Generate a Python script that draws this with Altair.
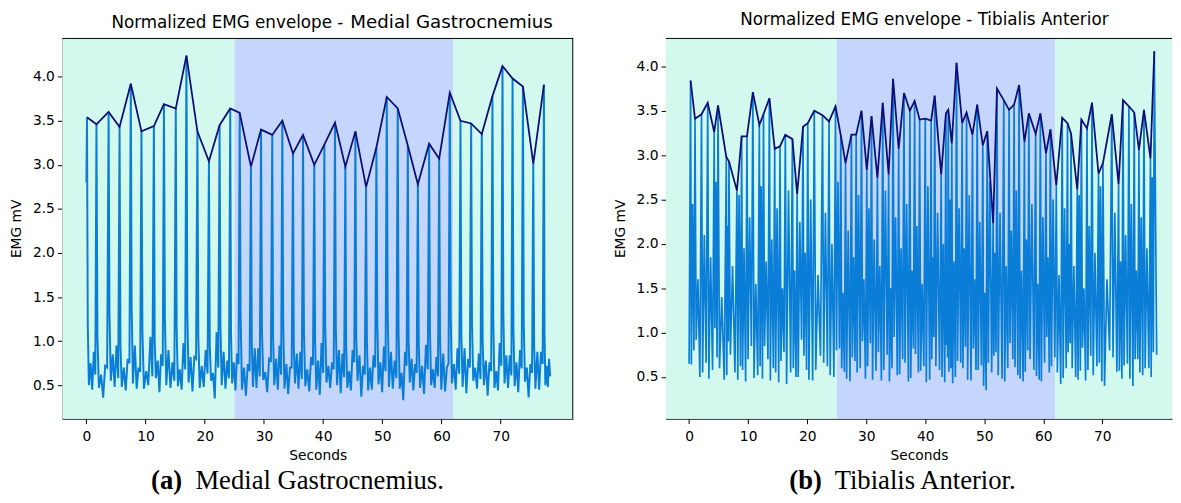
import altair as alt
import pandas as pd

# ---------------- data ----------------
# Medial Gastrocnemius: spike times (s) and spike heights (envelope vertices)
MG_T = [0.1, 1.7, 3.75, 5.6, 7.5, 9.3, 11.4, 13.1, 15.1, 16.9,
        18.75, 20.7, 22.5, 24.3, 25.9, 27.8, 29.5, 31.4, 33.1, 34.9,
        36.6, 38.5, 40.2, 42.0, 43.75, 45.45, 47.25, 49.0, 50.75, 52.6,
        54.3, 56.0, 57.9, 59.6, 61.4, 63.2, 65.0, 66.8, 68.6, 70.3,
        72.0, 73.75, 75.5, 77.3]
MG_PEAK = [3.54, 3.46, 3.60, 3.43, 3.92, 3.38, 3.44, 3.69, 3.64, 4.24,
           3.38, 3.04, 3.45, 3.64, 3.59, 2.98, 3.40, 3.34, 3.50, 3.13,
           3.34, 3.00, 3.23, 3.48, 2.98, 3.38, 2.75, 3.20, 3.77, 3.64,
           3.22, 2.78, 3.24, 3.07, 3.82, 3.50, 3.47, 3.35, 3.78, 4.12,
           3.98, 3.89, 3.01, 3.91]
# values between spikes (shoulder, low, bump, dip, bump, pre-spike)
MG_S1 = [1.20, 1.05, 1.30, 0.95, 1.40, 1.10, 1.00, 1.25, 1.15, 1.35,
         1.05, 0.95, 1.20, 1.10, 1.30, 1.00, 1.15, 1.05, 1.25, 0.95,
         1.10, 1.00, 1.20, 1.15, 0.95, 1.05, 1.00, 1.25, 1.35, 1.10,
         1.00, 0.95, 1.15, 1.05, 1.30, 1.10, 1.20, 1.00, 1.25, 1.35,
         1.15, 1.20, 0.95, 1.10]
MG_S2 = [0.50, 0.47, 0.55, 0.48, 0.52, 0.46, 0.58, 0.50, 0.49, 0.53,
         0.47, 0.55, 0.50, 0.52, 0.45, 0.48, 0.56, 0.50, 0.46, 0.52,
         0.49, 0.45, 0.53, 0.50, 0.47, 0.55, 0.44, 0.51, 0.48, 0.46,
         0.53, 0.47, 0.50, 0.45, 0.52, 0.48, 0.55, 0.50, 0.47, 0.52,
         0.49, 0.54, 0.46, 0.50]
MG_S3 = [0.75, 0.62, 0.85, 0.70, 0.95, 0.66, 0.78, 0.90, 0.68, 0.82,
         0.72, 0.64, 0.88, 0.76, 0.70, 0.92, 0.65, 0.80, 0.74, 0.86,
         0.68, 0.78, 0.72, 0.90, 0.66, 0.84, 0.70, 0.76, 0.88, 0.64,
         0.80, 0.72, 0.68, 0.86, 0.74, 0.92, 0.70, 0.78, 0.66, 0.84,
         0.76, 0.70, 0.88, 0.72]
MG_S4 = [0.45, 0.36, 0.48, 0.44, 0.46, 0.50, 0.42, 0.47, 0.45, 0.43,
         0.48, 0.35, 0.46, 0.44, 0.38, 0.47, 0.42, 0.45, 0.40, 0.46,
         0.43, 0.39, 0.47, 0.41, 0.44, 0.37, 0.45, 0.42, 0.46, 0.33,
         0.44, 0.40, 0.47, 0.43, 0.45, 0.41, 0.46, 0.38, 0.44, 0.47,
         0.42, 0.36, 0.45, 0.48]
MG_S5 = [0.88, 0.72, 0.95, 0.80, 0.70, 1.05, 0.85, 0.76, 0.98, 0.82,
         0.90, 1.10, 0.78, 0.86, 0.74, 0.92, 0.80, 0.95, 0.70, 0.88,
         0.82, 0.98, 0.76, 0.86, 0.90, 0.72, 0.84, 0.94, 0.78, 0.88,
         0.74, 0.96, 0.82, 0.70, 0.92, 0.80, 0.86, 0.76, 0.98, 0.84,
         0.90, 0.74, 0.88, 0.80]
MG_S6 = [0.62, 0.70, 0.58, 0.75, 0.65, 0.60, 0.72, 0.55, 0.68, 0.80,
         0.63, 0.70, 0.58, 0.74, 0.66, 0.60, 0.78, 0.62, 0.70, 0.57,
         0.73, 0.64, 0.68, 0.59, 0.76, 0.62, 0.70, 0.66, 0.58, 0.72,
         0.64, 0.68, 0.60, 0.75, 0.63, 0.70, 0.57, 0.66, 0.72, 0.61,
         0.69, 0.64, 0.74, 0.60]
MG_START = (0.0, 2.80)
MG_END_T = 78.5

# Tibialis Anterior: spike times and heights (envelope vertices)
TA_T = [0.25, 1.0, 2.1, 3.15, 4.25, 4.9, 6.3, 6.75, 8.1, 8.9,
        9.8, 10.8, 11.9, 12.6, 13.6, 14.5, 15.4, 16.3, 17.5, 18.3,
        19.3, 20.1, 21.2, 22.6, 23.7, 24.8, 25.7, 26.5, 27.5, 28.3,
        29.2, 30.1, 30.9, 31.9, 32.8, 33.8, 34.55, 35.5, 36.4, 37.4,
        38.2, 39.05, 40.0, 41.0, 41.6, 42.7, 43.5, 43.9, 44.5, 45.3,
        46.25, 47.0, 48.0, 48.8, 49.75, 50.5, 51.5, 52.15, 53.3, 54.2,
        55.05, 55.9, 56.8, 57.55, 58.7, 59.5, 60.45, 61.2, 62.2, 63.2,
        64.1, 64.7, 65.75, 66.45, 67.4, 68.25, 69.35, 70.1, 71.6, 72.75,
        73.5, 74.5, 75.4, 76.2, 77.05, 78.15, 78.8]
TA_PEAK = [3.84, 3.41, 3.46, 3.59, 3.26, 3.56, 2.98, 2.93, 2.60, 3.21,
           3.21, 3.71, 3.34, 3.46, 3.64, 3.07, 3.10, 3.23, 3.18, 2.56,
           3.32, 3.36, 3.50, 3.45, 3.38, 3.55, 3.22, 2.91, 3.23, 3.23,
           3.50, 2.83, 3.44, 2.74, 3.59, 2.78, 3.86, 3.07, 3.70, 3.50,
           3.61, 3.40, 3.41, 3.39, 3.67, 2.78, 3.47, 3.51, 3.13, 4.04,
           3.36, 3.48, 3.23, 3.57, 3.11, 3.27, 2.23, 3.75, 3.62, 3.51,
           3.57, 3.79, 3.15, 3.47, 3.24, 3.47, 3.02, 3.29, 2.66, 3.42,
           3.36, 3.24, 2.61, 3.40, 3.30, 3.59, 2.79, 2.91, 3.46, 2.67,
           3.62, 3.55, 3.48, 3.06, 3.51, 2.96, 4.17]
TA_LOW = [0.64, 0.92, 0.55, 0.48, 1.05, 0.60, 0.52, 0.75, 0.47, 0.58,
          0.70, 0.49, 0.62, 0.85, 0.46, 0.55, 0.68, 0.42, 0.60, 0.50,
          0.74, 0.47, 0.58, 0.66, 0.52, 0.80, 0.60, 0.48, 0.72, 0.55,
          0.90, 0.62, 0.47, 0.78, 0.58, 0.45, 0.95, 0.53, 0.66, 0.49,
          0.76, 0.57, 0.44, 0.70, 0.62, 0.50, 0.86, 0.56, 0.43, 0.68,
          0.60, 0.47, 0.82, 0.58, 0.40, 0.66, 0.74, 0.52, 0.45, 0.88,
          0.61, 0.48, 0.56, 0.70, 0.51, 0.45, 0.95, 0.62, 0.55, 0.49,
          0.78, 0.60, 0.47, 0.83, 0.58, 0.52, 0.66, 0.40, 0.72, 0.57,
          0.63, 0.48, 0.70, 0.55, 0.60, 0.50]
TA_MID = [2.45, 1.60, 2.10, 1.85, 2.70, 1.40, 2.20, 1.75, 2.55, 1.95,
          2.30, 1.55, 2.65, 1.80, 2.05, 2.40, 1.50, 2.60, 1.70, 2.25,
          1.90, 2.50, 1.65, 2.35, 2.00, 2.70, 1.45, 2.15, 1.85, 2.55,
          1.60, 2.40, 2.05, 1.75, 2.60, 1.50, 2.30, 1.95, 2.45, 1.70,
          2.20, 1.55, 2.65, 1.85, 2.35, 2.00, 1.65, 2.50, 1.80, 2.40,
          1.95, 2.55, 1.60, 2.25, 1.45, 2.70, 1.90, 2.35, 1.75, 2.15,
          2.60, 1.70, 2.05, 2.45, 1.55, 2.30, 1.85, 2.50, 1.65, 2.40,
          2.00, 1.75, 2.55, 1.50, 2.20, 1.90, 2.65, 1.60, 2.35, 1.80,
          2.10, 2.45, 1.70, 2.30, 1.95, 2.75]
TA_TROUGH = [0.80, 0.50, 0.66, 0.58, 0.72, 0.47, 0.90, 0.55, 0.62, 0.45,
             0.85, 0.52, 0.48, 0.70, 0.60, 0.44, 0.78, 0.55, 0.50, 0.92,
             0.58, 0.46, 0.74, 0.62, 0.50, 0.82, 0.56, 0.45, 0.68, 0.60,
             0.48, 0.88, 0.57, 0.46, 0.75, 0.60, 0.52, 0.70, 0.45, 0.82,
             0.55, 0.62, 0.47, 0.95, 0.58, 0.44, 0.72, 0.60, 0.50, 0.66,
             0.84, 0.46, 0.58, 0.63, 0.35, 0.55, 0.78, 0.48, 0.60, 0.70,
             0.52, 0.45, 0.80, 0.58, 0.47, 0.66, 0.55, 0.72, 0.42, 0.60,
             0.88, 0.50, 0.57, 0.46, 0.74, 0.62, 0.45, 0.80, 0.56, 0.48,
             0.65, 0.40, 0.70, 0.52, 0.60, 0.78]
TA_START = (0.0, 0.65)
TA_END = (79.2, 0.75)

SPAN_BOUNDS = [25, 62]          # blue shaded interval (s)
X_TICKS = [0, 10, 20, 30, 40, 50, 60, 70]
Y_TICKS = [0.5, 1.0, 1.5, 2.0, 2.5, 3.0, 3.5, 4.0]

# ---------------- styles ----------------
GREEN = "#d3f9ee"
BLUE = "#c5d6fc"
SIG = "#0a7dd6"
ENV = "#0d0f78"
FONT = "DejaVu Sans"
SERIF = "Liberation Serif"
H = 386

MG_FRACS = [0.08, 0.2, 0.38, 0.55, 0.72, 0.88]
TA_FRACS = [0.18, 0.45, 0.75]


def mg_signal():
    rows = [MG_START]
    n = len(MG_T)
    cols = [MG_S1, MG_S2, MG_S3, MG_S4, MG_S5, MG_S6]
    for i in range(n):
        t = MG_T[i]
        rows.append((t, MG_PEAK[i]))
        nxt = MG_T[i + 1] if i < n - 1 else MG_END_T
        dt = nxt - t
        for f, c in zip(MG_FRACS, cols):
            rows.append((t + f * dt, c[i]))
    return pd.DataFrame(rows, columns=["t", "v"])


def ta_signal():
    rows = [TA_START]
    n = len(TA_T)
    cols = [TA_LOW, TA_MID, TA_TROUGH]
    for i in range(n):
        t = TA_T[i]
        rows.append((t, TA_PEAK[i]))
        if i < n - 1:
            dt = TA_T[i + 1] - t
            for f, c in zip(TA_FRACS, cols):
                rows.append((t + f * dt, c[i]))
    rows.append(TA_END)
    return pd.DataFrame(rows, columns=["t", "v"])


def one():
    return alt.Data(values=[{}])


def panel(sig, times, peaks, xdom, ydom, w, titles, captions, right_spine,
          sig_width):
    xs = alt.Scale(domain=xdom, nice=False, zero=False)
    ys = alt.Scale(domain=ydom, nice=False, zero=False)
    xax = alt.Axis(values=X_TICKS, title="Seconds", grid=False,
                   labelPadding=6, titlePadding=5)
    yax = alt.Axis(values=Y_TICKS, format=".1f", title="EMG mV", grid=False,
                   labelPadding=3, titlePadding=9)

    spans = pd.DataFrame({
        "x0": [xdom[0], SPAN_BOUNDS[0], SPAN_BOUNDS[1]],
        "x1": [SPAN_BOUNDS[0], SPAN_BOUNDS[1], xdom[1]],
        "c": [GREEN, BLUE, GREEN],
    })
    bg = alt.Chart(spans).mark_rect().encode(
        x=alt.X("x0:Q", scale=xs, axis=xax),
        x2="x1:Q",
        y=alt.value(0), y2=alt.value(H),
        color=alt.Color("c:N", scale=None),
    )
    line = alt.Chart(sig).mark_line(color=SIG, strokeWidth=sig_width,
                                    clip=True).encode(
        x=alt.X("t:Q", scale=xs, axis=xax),
        y=alt.Y("v:Q", scale=ys, axis=yax),
        order="t:Q",
    )
    env = alt.Chart(pd.DataFrame({"t": times, "v": peaks})).mark_line(
        color=ENV, strokeWidth=1.8, clip=True).encode(
        x=alt.X("t:Q", scale=xs, axis=xax),
        y=alt.Y("v:Q", scale=ys, axis=yax),
    )
    sp = [alt.Chart(one()).mark_rule(color="black", strokeWidth=1).encode(
        x=alt.value(0), x2=alt.value(w), y=alt.value(0.5))]
    if right_spine:
        sp.append(alt.Chart(one()).mark_rule(color="black", strokeWidth=1).encode(
            x=alt.value(w - 0.5), y=alt.value(0), y2=alt.value(H)))
    texts = []
    for (txt, x, y, size, align, font, weight) in titles + captions:
        texts.append(alt.Chart(one()).mark_text(
            text=txt, font=font, fontSize=size, align=align,
            baseline="alphabetic", color="black", fontWeight=weight).encode(
            x=alt.value(x), y=alt.value(y)))
    return alt.layer(bg, line, env, *sp, *texts).properties(width=w, height=H)


left = panel(
    mg_signal(), MG_T, MG_PEAK, [-4.08, 82.25], [0.12, 4.44], 518,
    [("Normalized EMG envelope -", 285, -10, 17, "right", FONT, "normal"),
     ("Medial Gastrocnemius", 292, -10, 18.5, "left", FONT, "normal")],
    [("(a)", 90, 457, 27, "left", SERIF, "bold"),
     ("Medial Gastrocnemius.", 135, 457, 27, "left", SERIF, "normal")],
    True, 2,
)
right = panel(
    ta_signal(), TA_T, TA_PEAK, [-3.92, 81.8], [0.03, 4.32], 513,
    [("Normalized EMG envelope - Tibialis Anterior", 262, -13, 17, "center",
      FONT, "normal")],
    [("(b)", 125, 457, 27, "left", SERIF, "bold"),
     ("Tibialis Anterior.", 171, 457, 27, "left", SERIF, "normal")],
    False, 1.7,
)

chart = alt.hconcat(left, right, spacing=39).properties(
    padding={"left": 1, "top": 0, "right": 0, "bottom": 0}
).configure_view(strokeWidth=0).configure_axis(
    labelFont=FONT, labelFontSize=14, labelColor="black",
    titleFont=FONT, titleFontSize=14, titleFontWeight="normal",
    titleColor="black", tickColor="black", tickSize=5, tickWidth=1,
    domainColor="black", domainWidth=1,
)

chart.save("out.html", embed_options={"renderer": "svg", "actions": False})
